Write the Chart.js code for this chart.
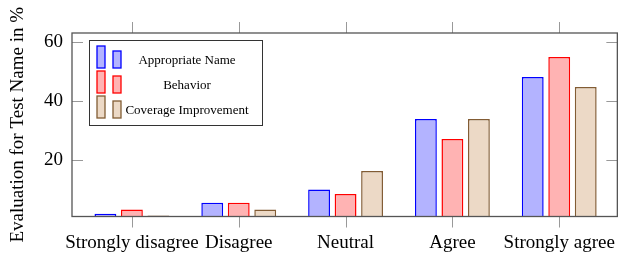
<!DOCTYPE html>
<html><head><meta charset="utf-8">
<script src="https://cdn.jsdelivr.net/npm/chart.js@4.4.1/dist/chart.umd.min.js"></script>
<style>html,body{margin:0;padding:0;background:#fff}#wrap{width:622px;height:254px}</style>
</head><body><div id="wrap"><canvas id="c" width="622" height="254"></canvas></div>
<script>
const categories = ["Strongly disagree", "Disagree", "Neutral", "Agree", "Strongly agree"];
const seriesNames = ["Appropriate Name", "Behavior", "Coverage Improvement"];
const appropriateName = [1.5, 5.3, 9.8, 33.9, 48.2];
const behavior = [3.0, 5.3, 8.3, 27.0, 55.0];
const coverageImprovement = [0.9, 3.0, 16.1, 33.9, 44.8];
const yTicks = [20, 40, 60];

const fills = ["rgb(179,179,255)", "rgb(255,179,179)", "rgb(236,217,198)"];
const strokes = ["rgb(0,0,255)", "rgb(255,0,0)", "rgb(130,92,52)"];
const FONT = "'Liberation Serif', 'DejaVu Serif', serif";

function pts(arr){ return arr.map((v,i)=>({x:i, y:v})); }

const framePlugin = {
  id: 'frame',
  afterDatasetsDraw(chart){
    const {ctx, chartArea:a, scales} = chart;
    ctx.save();
    ctx.strokeStyle = '#999'; ctx.lineWidth = 1;
    yTicks.forEach(v=>{
      const y = Math.round(scales.y.getPixelForValue(v))+0.5;
      ctx.beginPath(); ctx.moveTo(a.left, y); ctx.lineTo(a.left+11, y); ctx.stroke();
      ctx.beginPath(); ctx.moveTo(a.right, y); ctx.lineTo(a.right-11, y); ctx.stroke();
    });
    categories.forEach((c,i)=>{
      const x = Math.round(scales.x.getPixelForValue(i))+0.5;
      ctx.beginPath(); ctx.moveTo(x, a.bottom); ctx.lineTo(x, a.bottom+11); ctx.stroke();
      ctx.beginPath(); ctx.moveTo(x, a.top); ctx.lineTo(x, a.top-11); ctx.stroke();
    });
    ctx.strokeStyle = '#555'; ctx.lineWidth = 1.3;
    ctx.strokeRect(a.left, a.top, a.right-a.left, a.bottom-a.top);
    // legend
    const lx = a.left+17, ly = a.top+7, lw = 173, lh = 85;
    ctx.fillStyle = '#fff';
    ctx.fillRect(lx, ly, lw, lh);
    ctx.strokeStyle = '#333'; ctx.lineWidth = 1;
    ctx.strokeRect(lx+0.5, ly+0.5, lw, lh);
    ctx.font = "13px " + FONT;
    ctx.textAlign = 'center'; ctx.textBaseline = 'middle';
    seriesNames.forEach((n,i)=>{
      const base = ly + 28 + i*25;
      ctx.fillStyle = fills[i]; ctx.strokeStyle = strokes[i]; ctx.lineWidth = 1.3;
      ctx.fillRect(lx+8, base-22, 8, 22); ctx.strokeRect(lx+8, base-22, 8, 22);
      ctx.fillRect(lx+24, base-17, 8, 17); ctx.strokeRect(lx+24, base-17, 8, 17);
      ctx.fillStyle = '#000';
      ctx.fillText(n, lx+98, base-7);
    });
    ctx.restore();
  }
};

const ds = [appropriateName, behavior, coverageImprovement].map((arr,i)=>({
  label: seriesNames[i], data: pts(arr),
  backgroundColor: fills[i], borderColor: strokes[i], borderWidth: 1.5,
  borderSkipped: false,
  categoryPercentage: 0.744, barPercentage: 0.825
}));

new Chart(document.getElementById('c'), {
  type: 'bar',
  data: { datasets: ds },
  options: {
    responsive: false, animation: false,
    layout: { padding: { top: 33, right: 1, left: 0, bottom: 0 } },
    plugins: { legend: { display: false }, tooltip: { enabled: false } },
    scales: {
      x: {
        type: 'linear', offset: false, min: -0.5607, max: 4.544,
        grid: { display: false }, border: { display: false },
        afterBuildTicks: ax => { ax.ticks = categories.map((c,i)=>({value:i})); },
        afterFit: ax => { ax.height = 37.5; },
        ticks: { autoSkip: false, maxRotation: 0, padding: 7, color: '#000',
          font: { family: FONT, size: 19 }, callback: v => categories[v] }
      },
      y: {
        min: 0.6, max: 63.2,
        grid: { display: false }, border: { display: false },
        afterBuildTicks: ax => { ax.ticks = yTicks.map(v=>({value:v})); },
        afterFit: ax => { ax.width = 72; },
        ticks: { padding: 1, color: '#000', font: { family: FONT, size: 19 } },
        title: { display: true, text: 'Evaluation for Test Name in %', color: '#000',
          font: { family: FONT, size: 19 }, padding: { top: 7, bottom: 0 } }
      }
    }
  },
  plugins: [framePlugin]
});
</script></body></html>
